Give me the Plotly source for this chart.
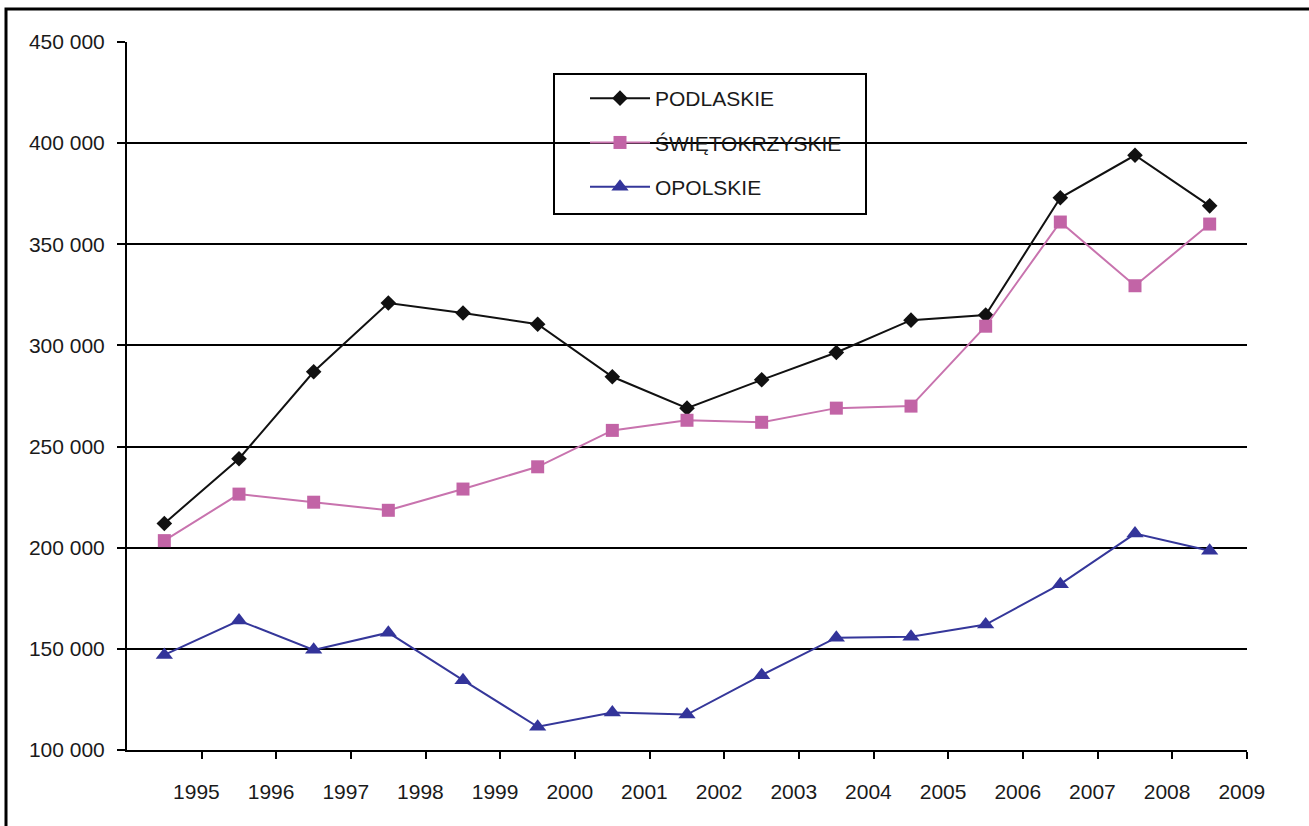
import numpy as np
import plotly.graph_objects as go

years = ["1995", "1996", "1997", "1998", "1999", "2000", "2001", "2002",
         "2003", "2004", "2005", "2006", "2007", "2008", "2009"]

podlaskie = [212000, 244000, 287000, 321000, 316000, 310500, 284500, 269000,
             283000, 296500, 312500, 315000, 373000, 394000, 369000]
swietokrzyskie = [203500, 226500, 222500, 218500, 229000, 240000, 258000, 263000,
                  262000, 269000, 270000, 309500, 361000, 329500, 360000]
opolskie = [147000, 164000, 149500, 158000, 134500, 111500, 118500, 117500,
            137000, 155500, 156000, 162000, 182000, 207000, 198500]

series_names = ["PODLASKIE", "ŚWIĘTOKRZYSKIE", "OPOLSKIE"]

FONT = "Liberation Sans, Arial, sans-serif"

# points sit in the middle of each year slot, labels near the slot's right edge
pos = np.arange(len(years)) + 0.5
label_pos = np.arange(1, len(years) + 1) - 0.07

fig = go.Figure()
fig.add_trace(go.Scatter(x=pos, y=podlaskie, name=series_names[0], legendgroup="a",
                         mode="lines+markers",
                         line=dict(color="#111111", width=2),
                         marker=dict(symbol="diamond", size=12, color="#111111")))
fig.add_trace(go.Scatter(x=pos, y=swietokrzyskie, name=series_names[1], legendgroup="b",
                         mode="lines+markers",
                         line=dict(color="#c873ae", width=2),
                         marker=dict(symbol="square", size=13, color="#c264a6")))
fig.add_trace(go.Scatter(x=pos, y=opolskie, name=series_names[2], legendgroup="c",
                         mode="lines+markers",
                         line=dict(color="#35379a", width=2),
                         marker=dict(symbol="triangle-up", size=15, color="#33349a")))

L, R, T, B = 127, 62, 42, 76
W, H = 1309, 826
pw, ph = W - L - R, H - T - B

def px_x(x):
    return (x - L) / pw

def px_y(y):
    return 1 - (y - T) / ph

# outer frame
fig.add_shape(type="rect", xref="paper", yref="paper",
              x0=px_x(6), x1=px_x(1330), y0=px_y(850), y1=px_y(9),
              line=dict(color="black", width=3), layer="below")
# legend box, covers the gridlines
fig.add_shape(type="rect", xref="paper", yref="paper",
              x0=px_x(554), x1=px_x(866), y0=px_y(214), y1=px_y(74),
              line=dict(color="black", width=2), fillcolor="white", layer="between")

fig.update_layout(
    width=W, height=H,
    margin=dict(l=L, r=R, t=T, b=B, autoexpand=False),
    paper_bgcolor="white", plot_bgcolor="white",
    font=dict(family=FONT, size=21, color="#1a1a1a"),
    separators=". ",
    showlegend=True,
    legend=dict(x=px_x(585), y=px_y(78), xanchor="left", yanchor="top",
                bgcolor="rgba(0,0,0,0)", borderwidth=0, itemwidth=60,
                traceorder="grouped", tracegroupgap=14,
                font=dict(family=FONT, size=21, color="#1a1a1a")),
)

fig.update_xaxes(range=[0, 15], tickvals=label_pos, ticktext=years, ticks="",
                 ticklabelstandoff=22,
                 minor=dict(tickvals=list(range(1, 16)), ticks="outside", ticklen=7,
                            tickwidth=2, tickcolor="black", showgrid=False),
                 showline=True, linecolor="black", linewidth=2,
                 showgrid=False, zeroline=False, automargin=False, fixedrange=True)
fig.update_yaxes(range=[100000, 450000], dtick=50000, tick0=100000, tickformat=",d",
                 ticks="outside", ticklen=8, tickwidth=2, tickcolor="black",
                 ticklabelstandoff=8,
                 showline=True, linecolor="black", linewidth=2,
                 showgrid=True, gridcolor="black", gridwidth=2,
                 zeroline=False, automargin=False, fixedrange=True)

fig.write_html("out.html", config={"displayModeBar": False},
               post_script="document.body.style.margin='0px';")
